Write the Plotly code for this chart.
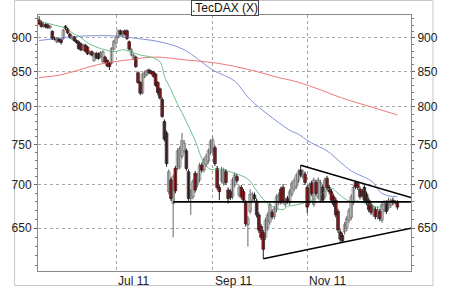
import math
import pandas as pd
import plotly.graph_objects as go

# ---------------- data (TecDAX daily, 13 May 2011 - 28 Dec 2011) ----------------
first_day = "2011-05-13"
opens = [928, 925, 918, 921, 920, 916, 910, 900, 894, 898, 897, 899, 918, 914, 906, 899, 901, 896, 894, 891,
         882, 889, 886, 876, 879, 866, 876, 876, 872, 864, 871, 866, 862, 862, 883, 892, 901, 911, 904, 911,
         911, 894, 874, 869, 871, 848, 834, 819, 842, 845, 852, 850, 849, 846, 834, 825, 810, 780, 765, 692,
         706, 678, 720, 720, 722, 735, 742, 742, 716, 684, 686, 714, 700, 706, 724, 718, 725, 729, 740, 742,
         746, 720, 697, 705, 702, 716, 694, 692, 686, 700, 710, 688, 697, 692, 679, 654, 669, 682, 688, 681,
         665, 652, 645, 640, 650, 657, 668, 663, 671, 679, 695, 697, 677, 684, 679, 689, 695, 698, 705, 718,
         710, 713, 697, 679, 702, 677, 703, 686, 682, 697, 686, 708, 697, 692, 686, 682, 669, 646, 642, 646,
         650, 659, 662, 679, 703, 702, 695, 692, 697, 689, 682, 677, 666, 671, 663, 669, 659, 671, 679, 673,
         676, 682, 680, 679]
highs = [934, 927, 923, 923, 922, 920, 912, 902, 901, 900, 899, 914, 920, 916, 908, 904, 903, 898, 896, 893,
         891, 891, 888, 881, 881, 878, 879, 878, 880, 881, 873, 868, 864, 886, 897, 903, 913, 913, 912, 913,
         913, 896, 884, 876, 873, 850, 836, 848, 851, 853, 854, 852, 851, 848, 836, 827, 813, 783, 768, 719,
         709, 713, 723, 745, 748, 765, 756, 745, 719, 695, 707, 717, 715, 727, 727, 734, 738, 745, 757, 760,
         749, 723, 700, 722, 721, 719, 697, 695, 709, 715, 713, 700, 700, 695, 682, 664, 695, 692, 691, 684,
         668, 655, 648, 662, 668, 680, 671, 675, 689, 691, 698, 701, 685, 687, 695, 705, 708, 714, 719, 724,
         719, 716, 700, 703, 705, 709, 706, 709, 706, 700, 709, 711, 700, 695, 689, 685, 672, 649, 645, 657,
         664, 673, 689, 700, 705, 704, 698, 695, 700, 692, 685, 680, 676, 674, 674, 672, 680, 682, 682, 685,
         684, 685, 682, 682]
lows = [920, 916, 916, 915, 914, 913, 897, 896, 892, 893, 890, 897, 912, 906, 899, 897, 894, 891, 882, 880,
        880, 878, 874, 874, 872, 864, 868, 867, 870, 862, 862, 856, 852, 860, 881, 890, 899, 904, 902, 904,
        897, 881, 872, 867, 855, 832, 816, 817, 840, 843, 846, 845, 841, 828, 816, 810, 785, 754, 722, 689,
        681, 640, 690, 718, 719, 732, 739, 717, 681, 665, 683, 691, 697, 703, 715, 715, 722, 726, 737, 739,
        723, 694, 682, 702, 699, 700, 678, 682, 683, 697, 702, 685, 683, 679, 652, 630, 666, 679, 681, 662,
        645, 637, 617, 637, 647, 654, 660, 660, 668, 676, 677, 678, 674, 678, 676, 686, 692, 695, 702, 709,
        707, 700, 667, 676, 687, 674, 687, 683, 679, 679, 683, 694, 689, 679, 674, 662, 645, 635, 634, 643,
        647, 656, 659, 676, 695, 694, 683, 685, 679, 676, 668, 665, 663, 660, 660, 658, 656, 668, 666, 670,
        673, 676, 677, 671]
closes = [922, 918, 921, 917, 916, 918, 899, 898, 899, 895, 893, 912, 915, 908, 901, 902, 896, 893, 884, 882,
          889, 880, 876, 879, 874, 876, 870, 869, 878, 879, 864, 858, 857, 884, 895, 901, 911, 906, 910, 906,
          899, 883, 882, 874, 857, 834, 819, 846, 849, 851, 848, 847, 843, 830, 820, 812, 787, 757, 726, 716,
          684, 710, 693, 742, 745, 755, 752, 720, 684, 692, 704, 694, 712, 724, 718, 731, 735, 742, 754, 756,
          726, 697, 692, 719, 718, 703, 684, 685, 706, 712, 705, 697, 686, 682, 655, 661, 689, 689, 684, 665,
          648, 640, 627, 659, 665, 677, 663, 672, 686, 688, 680, 681, 682, 681, 692, 702, 705, 711, 716, 712,
          716, 703, 674, 700, 690, 706, 690, 706, 703, 682, 706, 697, 692, 682, 677, 665, 648, 638, 636, 654,
          661, 670, 686, 697, 698, 697, 686, 688, 682, 679, 671, 668, 673, 663, 671, 661, 677, 679, 669, 682,
          681, 679, 679, 674]

# moving averages
ma_green_dates = ["2011-05-13", "2011-05-24", "2011-06-01", "2011-06-03", "2011-06-09", "2011-06-13",
                  "2011-06-16", "2011-06-21", "2011-06-24", "2011-06-30", "2011-07-06", "2011-07-11",
                  "2011-07-18", "2011-07-25", "2011-07-29", "2011-08-01", "2011-08-02", "2011-08-05",
                  "2011-08-09", "2011-08-15", "2011-08-22", "2011-08-26", "2011-08-31", "2011-09-06",
                  "2011-09-15", "2011-09-23", "2011-09-29", "2011-10-04", "2011-10-07", "2011-10-17",
                  "2011-10-19", "2011-10-24", "2011-11-01", "2011-11-07", "2011-11-10", "2011-11-16",
                  "2011-11-21", "2011-11-28", "2011-12-02", "2011-12-08", "2011-12-16", "2011-12-22",
                  "2011-12-28"]
ma_green = [926, 920, 914, 908, 901, 895, 889, 885, 882, 879, 882, 880, 874, 871, 864, 857, 843, 824,
            810, 786, 755, 727, 719, 719, 714, 707, 693, 683, 676, 671, 675, 676, 680, 684, 690, 696,
            690, 681, 681, 678, 674, 680, 679]

ma_blue_dates = ["2011-05-13", "2011-05-27", "2011-06-10", "2011-07-01", "2011-07-15", "2011-07-29",
                 "2011-08-15", "2011-09-01", "2011-09-15", "2011-09-26", "2011-10-21", "2011-10-25",
                 "2011-11-03", "2011-11-14", "2011-11-22", "2011-11-29", "2011-12-08", "2011-12-13",
                 "2011-12-16", "2011-12-22", "2011-12-28"]
ma_blue = [896, 900, 903, 903, 899, 894, 882, 852, 836, 810, 767, 765, 752, 742, 728, 717, 708, 703,
           692, 687, 686]

ma_red_dates = ["2011-05-13", "2011-05-27", "2011-06-21", "2011-07-11", "2011-07-27", "2011-08-15",
                "2011-09-05", "2011-09-23", "2011-10-13", "2011-10-24", "2011-11-04", "2011-11-23",
                "2011-12-13", "2011-12-28"]
ma_red = [841, 845, 860, 867, 871, 867, 862, 853, 841, 836, 827, 812, 799, 789]

# drawn trend lines
flat_dates = ["2011-08-08", "2012-01-06"]
flat_vals = [680, 680]
down_dates = ["2011-10-27", "2012-01-05 05:00"]
down_vals = [724, 685]
up_dates = ["2011-10-04", "2012-01-05 05:00"]
up_vals = [617, 650]

y_ticks = [650, 700, 750, 800, 850, 900]
y_minor = [v for v in range(610, 940, 10) if v not in y_ticks]
x_ticks = ["2011-07-01", "2011-09-01", "2011-11-01"]
x_labels = ["Jul 11", "Sep 11", "Nov 11"]
title = ".TecDAX (X)"

x_range = ["2011-05-12 12:00", "2012-01-05 05:00"]
y_range = [math.log10(604.2), math.log10(936)]

# ---------------- figure ----------------
dates = list(pd.bdate_range(first_day, periods=len(closes)))
FONT = "Liberation Sans, Arial, sans-serif"
DAY_MS = 86400000

up_idx = [i for i in range(len(closes)) if closes[i] >= opens[i]]
dn_idx = [i for i in range(len(closes)) if closes[i] < opens[i]]


def wick_xy(idx):
    xs, ys = [], []
    for i in idx:
        xs += [dates[i], dates[i], None]
        ys += [lows[i], highs[i], None]
    return xs, ys


def body(idx):
    base = [min(opens[i], closes[i]) for i in idx]
    top = [max(opens[i], closes[i], min(opens[i], closes[i]) + 1.0) for i in idx]
    return [dates[i] for i in idx], base, [t - b for t, b in zip(top, base)]


fig = go.Figure()
fig.add_trace(go.Scatter(x=ma_red_dates, y=ma_red, mode="lines",
                         line=dict(color="#f07a78", width=1, shape="spline"), hoverinfo="skip"))
fig.add_trace(go.Scatter(x=ma_blue_dates, y=ma_blue, mode="lines",
                         line=dict(color="#8393db", width=1, shape="spline"), hoverinfo="skip"))
fig.add_trace(go.Scatter(x=ma_green_dates, y=ma_green, mode="lines",
                         line=dict(color="#6cc08a", width=1, shape="spline"), hoverinfo="skip"))

wx, wy = wick_xy(up_idx)
fig.add_trace(go.Scatter(x=wx, y=wy, mode="lines", line=dict(color="#666666", width=1),
                         hoverinfo="skip", connectgaps=False))
wx, wy = wick_xy(dn_idx)
fig.add_trace(go.Scatter(x=wx, y=wy, mode="lines", line=dict(color="#1e1e1e", width=1),
                         hoverinfo="skip", connectgaps=False))

bx, bb, bl = body(up_idx)
fig.add_trace(go.Bar(x=bx, y=bl, base=bb, width=1.2 * DAY_MS,
                     marker=dict(color="white", line=dict(color="#7a7a7a", width=0.8)), hoverinfo="skip"))
bx, bb, bl = body(dn_idx)
fig.add_trace(go.Bar(x=bx, y=bl, base=bb, width=1.2 * DAY_MS,
                     marker=dict(color="#ec1820", line=dict(color="#222222", width=0.8)), hoverinfo="skip"))

for dx, dy in [(flat_dates, flat_vals), (down_dates, down_vals), (up_dates, up_vals)]:
    fig.add_trace(go.Scatter(x=dx, y=dy, mode="lines", line=dict(color="black", width=1.6),
                             yaxis="y2", hoverinfo="skip"))

axis_common = dict(
    type="log", range=y_range, tickvals=y_ticks, ticktext=[str(v) for v in y_ticks],
    ticks="outside", ticklen=3, tickcolor="#666", tickfont=dict(family=FONT, size=12, color="#222"),
    showline=True, linecolor="#8a8a8a", linewidth=1, zeroline=False,
    minor=dict(tickvals=y_minor, ticks="outside", ticklen=2, tickcolor="#777", showgrid=False),
)
fig.update_layout(
    width=450, height=288,
    margin=dict(l=26, r=26, t=15, b=17),
    paper_bgcolor="white", plot_bgcolor="white",
    showlegend=False, barmode="overlay",
    font=dict(family=FONT, size=12, color="#222"),
    xaxis=dict(
        type="date", range=x_range,
        rangebreaks=[dict(bounds=["sat", "mon"])],
        tickvals=x_ticks, showticklabels=False, ticks="",
        showgrid=True, gridcolor="#a0a0a0", griddash="dot", gridwidth=1,
        showline=True, linecolor="#8a8a8a", linewidth=1, mirror=True, zeroline=False,
    ),
    yaxis=dict(**axis_common, side="left", mirror=True,
               showgrid=True, gridcolor="#a8a8a8", griddash="dot", gridwidth=1),
    yaxis2=dict(**axis_common, side="right", overlaying="y", showgrid=False),
)

for d, lab in zip(x_ticks, x_labels):
    fig.add_annotation(x=d, y=0, xref="x", yref="paper", text=lab, showarrow=False,
                       xanchor="left", yanchor="top", yshift=-1,
                       font=dict(family=FONT, size=12, color="#222"))

fig.add_annotation(x=0.5, y=1.0273, xref="paper", yref="paper", text=title, showarrow=False,
                   xanchor="center", yanchor="middle", bgcolor="white",
                   bordercolor="#444", borderwidth=1, borderpad=0,
                   font=dict(family=FONT, size=12, color="#111"))

fig.add_shape(type="rect", xref="paper", yref="paper", x0=-0.0628, x1=1.059, y0=-0.0566, y1=1.0566,
              line=dict(color="#c8c8c8", width=1), layer="below")

fig.write_html("out.html")
